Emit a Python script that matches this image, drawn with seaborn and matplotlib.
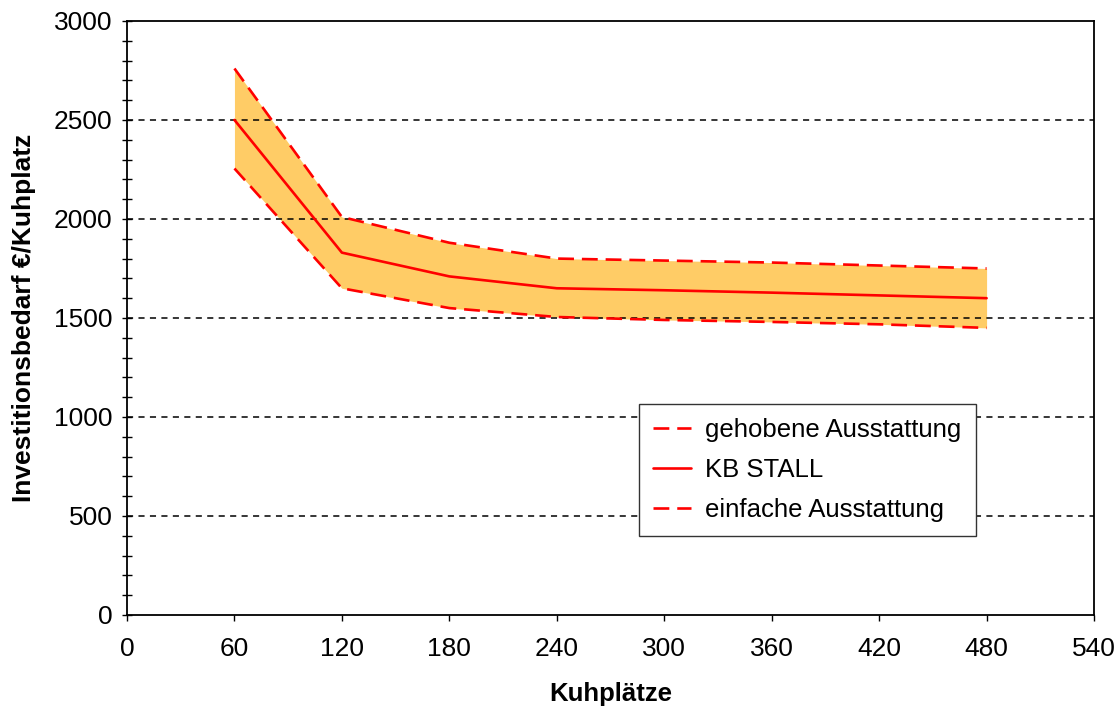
import numpy as np
import pandas as pd
import matplotlib
matplotlib.use("Agg")
import matplotlib.pyplot as plt
from matplotlib.ticker import MultipleLocator
import seaborn as sns

# Data
kuhplaetze = [60, 120, 180, 240, 300, 360, 420, 480]
gehobene = [2760, 2010, 1880, 1800, 1790, 1780, 1765, 1750]
kb_stall = [2500, 1830, 1710, 1650, 1640, 1628, 1614, 1600]
einfache = [2255, 1650, 1550, 1505, 1490, 1480, 1468, 1450]

series_names = ["gehobene Ausstattung", "KB STALL", "einfache Ausstattung"]
x_ticks = [0, 60, 120, 180, 240, 300, 360, 420, 480, 540]
y_ticks = [0, 500, 1000, 1500, 2000, 2500, 3000]

sns.set_theme(style="white")
plt.rcParams["font.family"] = ["Liberation Sans", "DejaVu Sans"]
plt.rcParams["text.color"] = "black"
plt.rcParams["axes.labelcolor"] = "black"
plt.rcParams["xtick.color"] = "black"
plt.rcParams["ytick.color"] = "black"

df = pd.DataFrame({
    "Kuhplätze": kuhplaetze * 3,
    "Wert": gehobene + kb_stall + einfache,
    "Serie": [series_names[0]] * len(kuhplaetze)
             + [series_names[1]] * len(kuhplaetze)
             + [series_names[2]] * len(kuhplaetze),
})

fig = plt.figure(figsize=(11.15, 7.06), dpi=100)
ax = fig.add_axes([0.1139, 0.1289, 0.8673, 0.8414])

ax.fill_between(kuhplaetze, einfache, gehobene, color="#FFCC66", linewidth=0, zorder=1)

# grid lines at major y ticks
for yv in y_ticks[1:-1]:
    ax.axhline(yv, color="black", linewidth=1.1, linestyle=(0, (4, 3.5)), zorder=1.5)

red = "#FF0000"
sns.lineplot(data=df, x="Kuhplätze", y="Wert", hue="Serie", style="Serie",
             palette=[red, red, red],
             dashes={series_names[0]: (6, 3), series_names[1]: "", series_names[2]: (6, 3)},
             linewidth=1.9, ax=ax, zorder=3, legend=True)

ax.set_xlim(0, 540)
ax.set_ylim(0, 3000)
ax.set_xticks(x_ticks)
ax.set_yticks(y_ticks)
ax.yaxis.set_minor_locator(MultipleLocator(100))
ax.tick_params(axis="y", which="both", direction="inout", length=7, width=1, color="black",
               labelsize=19, pad=7, left=True, labelcolor="black")
ax.tick_params(axis="x", which="major", direction="out", length=4, width=1, color="black",
               labelsize=19, pad=12, bottom=True, labelcolor="black")
for sp in ax.spines.values():
    sp.set_visible(True)
    sp.set_color("black")
    sp.set_linewidth(1.3)

ax.set_xlabel("Kuhplätze", fontsize=18.5, fontweight="bold", labelpad=15, color="black")
ax.set_ylabel("Investitionsbedarf €/Kuhplatz", fontsize=19, fontweight="bold", labelpad=13, color="black")

handles, labels = ax.get_legend_handles_labels()
leg = ax.legend(handles, labels, loc="upper left", bbox_to_anchor=(0.529, 0.355),
                fontsize=18.5, frameon=True, fancybox=False, shadow=False,
                edgecolor="#333333", framealpha=1, handlelength=1.5,
                borderpad=0.55, labelspacing=0.62, handletextpad=0.55, borderaxespad=0)
leg.get_frame().set_linewidth(1.0)
for t in leg.get_texts():
    t.set_color("black")

fig.savefig("out.png", dpi=100)
